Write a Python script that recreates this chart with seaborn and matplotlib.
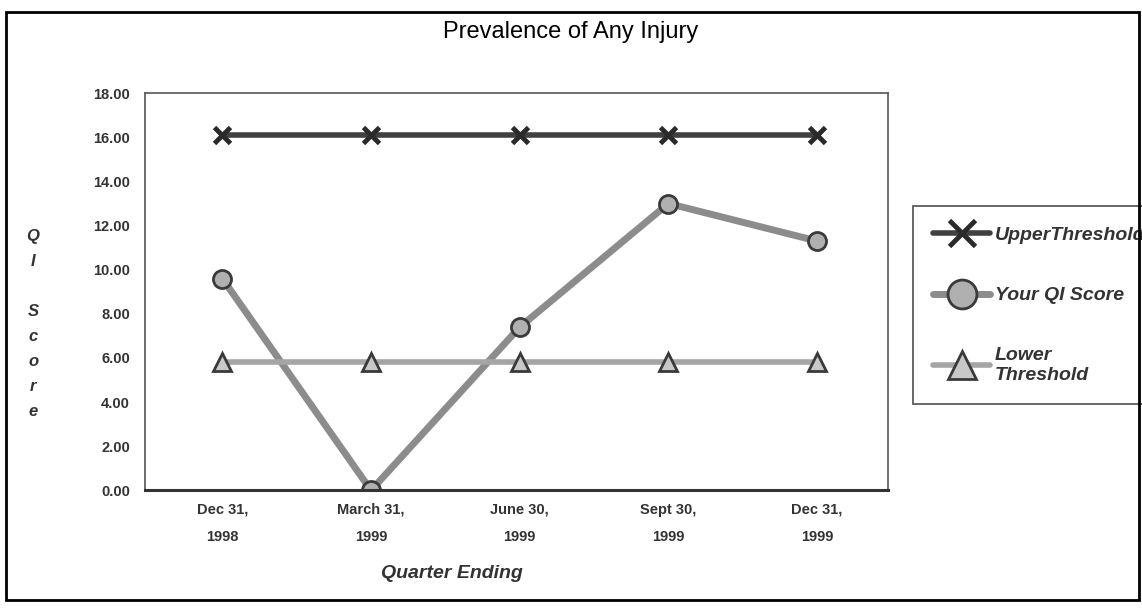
import numpy as np
import pandas as pd
import seaborn as sns
import matplotlib.pyplot as plt
from matplotlib.patches import Rectangle

# data
quarters = ["Dec 31,\n1998", "March 31,\n1999", "June 30,\n1999",
            "Sept 30,\n1999", "Dec 31,\n1999"]
upper_threshold = [16.1, 16.1, 16.1, 16.1, 16.1]
qi_score = [9.6, 0.0, 7.4, 13.0, 11.3]
lower_threshold = [5.8, 5.8, 5.8, 5.8, 5.8]

sns.set_theme(style="white")
plt.rcParams['font.family'] = ['Liberation Sans', 'DejaVu Sans']

pos = np.arange(len(quarters))
df = pd.DataFrame({'pos': pos, 'upper': upper_threshold,
                   'score': qi_score, 'lower': lower_threshold})

fig = plt.figure(figsize=(11.42, 6.13), dpi=100)
ax = fig.add_axes([0.127, 0.2, 0.651, 0.648])

sns.lineplot(data=df, x='pos', y='upper', ax=ax, color='#404040',
             lw=4, marker='x', markersize=12, markeredgewidth=3.5,
             markeredgecolor='#2a2a2a', label='UpperThreshold')
sns.lineplot(data=df, x='pos', y='score', ax=ax, color='#8c8c8c',
             lw=5, marker='o', markersize=13, markerfacecolor='#b0b0b0',
             markeredgecolor='#3a3a3a', markeredgewidth=2,
             label='Your QI Score')
sns.lineplot(data=df, x='pos', y='lower', ax=ax, color='#a5a5a5',
             lw=4, marker='^', markersize=13, markerfacecolor='#c8c8c8',
             markeredgecolor='#3a3a3a', markeredgewidth=2,
             label='Lower\nThreshold')

ax.set_xlim(-0.52, 4.48)
ax.set_ylim(0, 18)
yt = np.arange(0, 19, 2)
ax.set_yticks(yt)
ax.set_yticklabels([f"{v:.2f}" for v in yt], fontsize=10.5,
                   fontweight='bold', color='#333333')
ax.set_xticks(pos)
ax.set_xticklabels(quarters, fontsize=10.5, fontweight='bold',
                   color='#333333', linespacing=2.2)
ax.tick_params(axis='y', pad=11, length=0)
ax.tick_params(axis='x', pad=9, length=0)
ax.set_xlabel("")
ax.set_ylabel("")
for s in ax.spines.values():
    s.set_color('#555555')
    s.set_linewidth(1.2)
ax.spines['bottom'].set_linewidth(2.2)
ax.spines['bottom'].set_color('#333333')

fig.text(452 / 1142, 1 - 573 / 613, "Quarter Ending", fontsize=14,
         fontweight='bold', style='italic', color='#333333',
         ha='center', va='center')
fig.text(0.029, 0.4715, "Q\nI\n\nS\nc\no\nr\ne", fontsize=12,
         fontweight='bold', style='italic', color='#333333',
         ha='center', va='center', linespacing=1.84)

leg = ax.legend(loc='upper left', bbox_to_anchor=(0.7995, 0.664),
                bbox_transform=fig.transFigure, frameon=True, fancybox=False,
                labelspacing=2.2, handlelength=2.9, handletextpad=0.25,
                borderpad=1.05, borderaxespad=0, markerscale=1.6,
                prop={'size': 14, 'weight': 'bold', 'style': 'italic'})
leg.get_frame().set_edgecolor('#333333')
leg.get_frame().set_linewidth(1.3)
for t in leg.get_texts():
    t.set_color('#333333')

fig.text(0.5, 0.948, "Prevalence of Any Injury", fontsize=17,
         ha='center', va='center', color='black')

fig.patches.append(Rectangle((0.005, 0.022), 0.992, 0.958, fill=False,
                             lw=2, edgecolor='black',
                             transform=fig.transFigure, figure=fig))

fig.savefig("out.png", dpi=100)
